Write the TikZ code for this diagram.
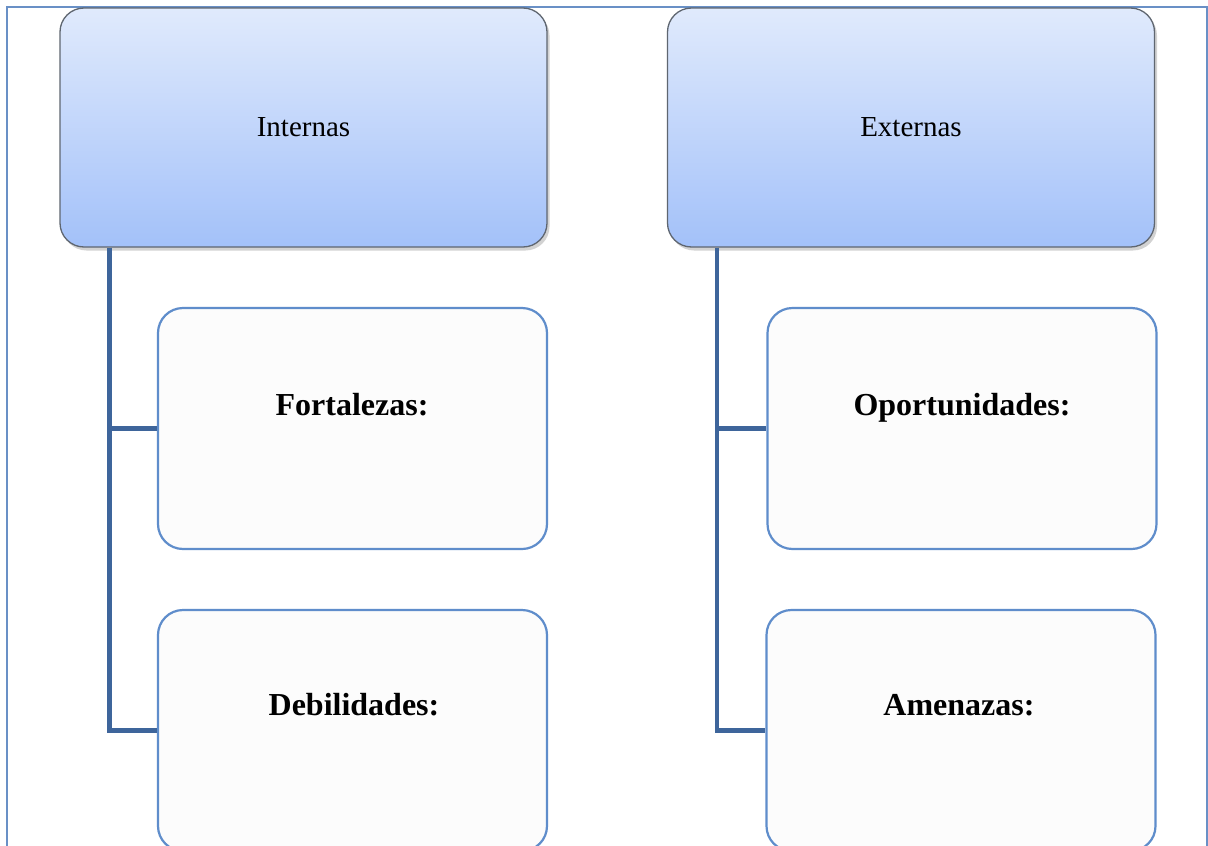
\documentclass[tikz,border=0pt]{standalone}
\usepackage{fontspec}
\setmainfont{Liberation Serif}
\usetikzlibrary{shadows,calc}
\definecolor{framec}{HTML}{6990C6}
\definecolor{topc}{HTML}{E0EAFC}
\definecolor{botc}{HTML}{A3C1F9}
\definecolor{edgec}{HTML}{5F6670}
\definecolor{subc}{HTML}{5F8DCB}
\definecolor{subfill}{HTML}{FCFCFC}
\definecolor{linkc}{HTML}{3E659B}
\tikzset{
  headbox/.style={draw=edgec, line width=1.3pt, rounded corners=24pt, top color=topc, bottom color=botc,
    minimum width=487pt, minimum height=239pt, inner sep=0pt,
    drop shadow={shadow xshift=2.5pt, shadow yshift=-3.5pt, opacity=0.35},
    font=\fontsize{29}{31}\selectfont},
  subbox/.style={draw=subc, line width=2.2pt, rounded corners=25pt, fill=subfill,
    minimum width=389pt, minimum height=241pt, inner sep=0pt},
  sublabel/.style={anchor=base, font=\bfseries\fontsize{32}{34}\selectfont, inner sep=0pt},
  link/.style={draw=linkc, line width=4.5pt},
}
\begin{document}
\begin{tikzpicture}[x=1pt,y=-1pt]
\useasboundingbox (0,0) rectangle (1208,846);
\fill[white] (0,0) rectangle (1208,846);
% frame
\draw[framec, line width=2pt] (7,860) -- (7,7) -- (1207,7) -- (1207,860);
% head boxes
\node[headbox] (int) at (303.5,127.5) {Internas};
\node[headbox] (ext) at (911,127.5) {Externas};
% sub boxes
\node[subbox] (fort) at (352.5,428.5) {};
\node[subbox] (deb) at (352.5,730.5) {};
\node[subbox] (opo) at (962,428.5) {};
\node[subbox] (ame) at (961,730.5) {};
\node[sublabel] (fortl) at (352,415) {Fortalezas:};
\node[sublabel] (debl) at (354,715) {Debilidades:};
\node[sublabel] (opol) at (962,415) {Oportunidades:};
\node[sublabel] (amel) at (959,715) {Amenazas:};
% connectors
\coordinate (ti) at ($(int.south west)+(50,0)$);
\coordinate (te) at ($(ext.south west)+(50,0)$);
\draw[link] (ti) |- (deb.west);
\draw[link] (ti |- fort.west) -- (fort.west);
\draw[link] (te) |- (ame.west);
\draw[link] (te |- opo.west) -- (opo.west);
\end{tikzpicture}
\end{document}
